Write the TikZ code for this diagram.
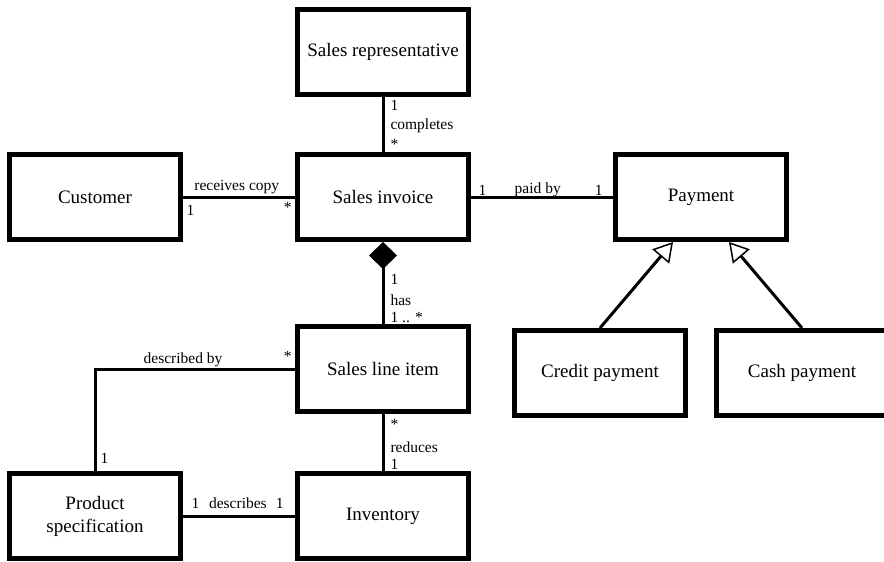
\documentclass[tikz,border=0pt]{standalone}
\usepackage{fontspec}
\setmainfont{Liberation Serif}
\usepackage{tikz}
\usetikzlibrary{arrows.meta,positioning}
\newcommand{\boxfont}{\fontsize{19}{23}\selectfont}
\newcommand{\lblfont}{\fontsize{15.5}{18}\selectfont}

\begin{document}
\begin{tikzpicture}[x=1pt,y=-1pt,
          box/.style={draw,line width=5pt,minimum width=171pt,
                      minimum height=85pt,align=center,font=\boxfont},
          link/.style={line width=3pt},
          lbl/.style={font=\lblfont,inner sep=2pt},
          gen/.style={line width=3pt,
                      -{Triangle[open,length=19pt,width=22pt,line width=1.5pt]}}]
        \useasboundingbox (0,0) rectangle (884,562);
        \node[box] (inv) at (383,197) {Sales invoice};
        \node[box,above=55pt of inv] (rep) {Sales representative};
        \node[box,left=112pt of inv] (cust) {Customer};
        \node[box,right=142pt of inv] (pay) {Payment};
        \node[box,below=82pt of inv] (item) {Sales line item};
        \node[box,below=57pt of item] (stock) {Inventory};
        \node[box,left=112pt of stock] (spec) {Product\\specification};
        \node[box] (credit) at (600,373) {Credit payment};
        \node[box,right=26pt of credit] (cash) {Cash payment};
        \draw[link] (rep) -- (inv)
          node[lbl,right=4pt,pos=0.16] {1}
          node[lbl,right=4pt,pos=0.53] {completes}
          node[lbl,right=4pt,pos=0.87] {*};
        \draw[link] (cust) -- (inv)
          node[lbl,above,pos=0.48] {receives copy}
          node[lbl,below right,at start,yshift=-5pt] {1}
          node[lbl,below left,at end,yshift=-2pt] {*};
        \draw[link] (inv) -- (pay)
          node[lbl,above,pos=0.47,yshift=-3.5pt] {paid by}
          node[lbl,above right,at start,xshift=4pt,yshift=-2pt] {1}
          node[lbl,above left,at end,xshift=-7pt,yshift=-2pt] {1};
        \draw[link,{Diamond[length=27pt,width=28pt,line width=1pt]}-] (inv) -- (item)
          node[lbl,right=4pt,pos=0.46] {1}
          node[lbl,right=4pt,pos=0.71] {has}
          node[lbl,right=4pt,pos=0.915] {1 .. *};
        \draw[link] (item) -- (stock)
          node[lbl,right=4pt,pos=0.175] {*}
          node[lbl,right=4pt,pos=0.58] {reduces}
          node[lbl,right=4pt,pos=0.88] {1};
        \draw[link] (item.west) -| (spec.north)
          node[lbl,above,pos=0.28,yshift=-1pt] {described by}
          node[lbl,above left,at start,yshift=4pt] {*}
          node[lbl,above right,at end,xshift=2pt,yshift=4pt] {1};
        \draw[link] (spec) -- (stock)
          node[lbl,above,pos=0.49,yshift=4pt] {describes}
          node[lbl,above right,at start,xshift=5pt,yshift=4pt] {1}
          node[lbl,above left,at end,xshift=-8pt,yshift=4pt] {1};
        \draw[gen] (credit.north) -- ([xshift=-28pt]pay.south);
        \draw[gen] (cash.north) -- ([xshift=28pt]pay.south);
      \end{tikzpicture}
\end{document}
